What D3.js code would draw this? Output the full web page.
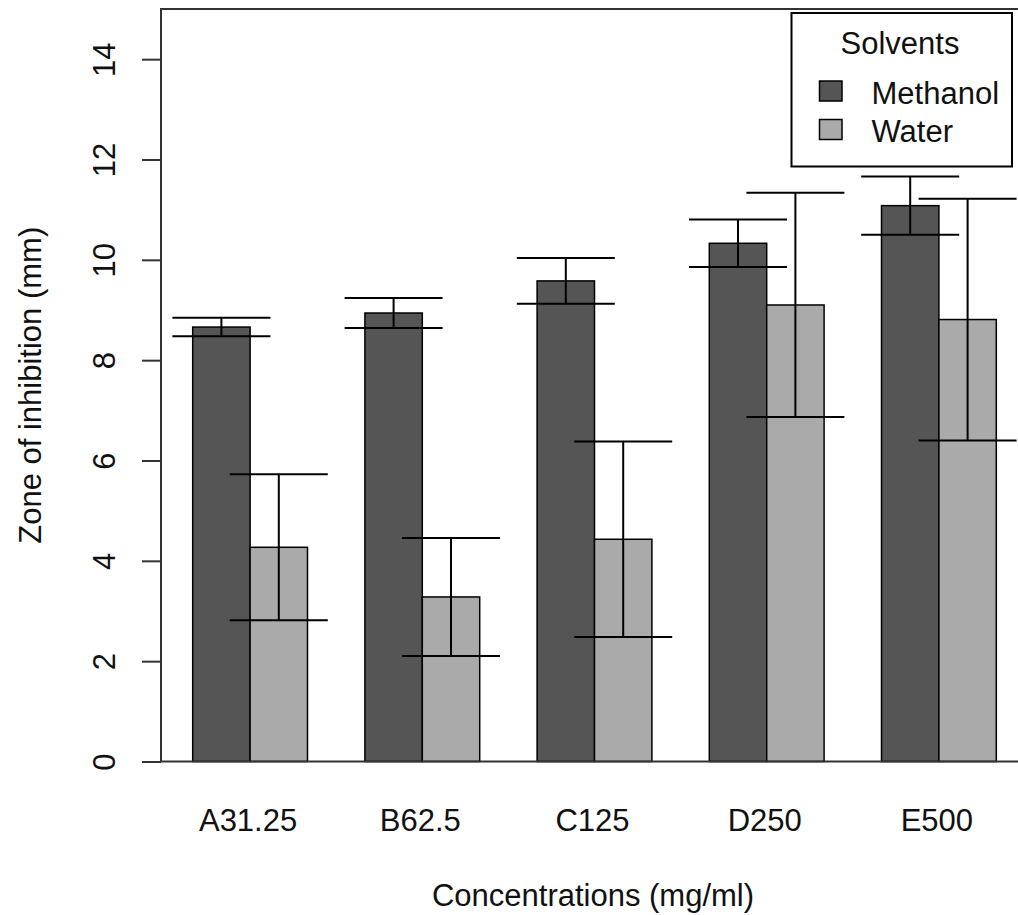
<!DOCTYPE html>
<html>
<head>
<meta charset="utf-8">
<script src="https://cdn.jsdelivr.net/npm/d3@7"></script>
<style>
  html, body { margin: 0; padding: 0; background: #fff; }
  svg { display: block; }
  text { font-family: "Liberation Sans", Arial, sans-serif; fill: #111; }
</style>
</head>
<body>
<svg id="chart" width="1018" height="915"></svg>
<script>
// ---- data ----
const categories = ["A31.25", "B62.5", "C125", "D250", "E500"];
const series = ["Methanol", "Water"];
const methanolMean = [8.66, 8.94, 9.58, 10.33, 11.08];
const methanolSD   = [0.185, 0.30, 0.455, 0.475, 0.58];
const waterMean    = [4.27, 3.28, 4.43, 9.10, 8.81];
const waterSD      = [1.455, 1.175, 1.95, 2.235, 2.41];
const yTicks = [0, 2, 4, 6, 8, 10, 12, 14];
const xTitle = "Concentrations (mg/ml)";
const yTitle = "Zone of inhibition (mm)";
const legendTitle = "Solvents";

const colors = { "Methanol": "#555555", "Water": "#aaaaaa" };

const rows = categories.map((c, i) => ({
  cat: c,
  vals: [
    { s: "Methanol", v: methanolMean[i], sd: methanolSD[i] },
    { s: "Water", v: waterMean[i], sd: waterSD[i] }
  ]
}));

const svg = d3.select("#chart");

const plot = { left: 161, right: 1028, top: 9, bottom: 761.5 };

const y = d3.scaleLinear().domain([0, 15]).range([plot.bottom, plot.top]);
const x0 = d3.scaleBand().domain(categories).range([164, 1025])
  .paddingInner(1/3).paddingOuter(1/6);
const x1 = d3.scaleBand().domain(series).range([0, x0.bandwidth()]).padding(0);

// bars
const g = svg.append("g");
const groups = g.selectAll("g.grp").data(rows).join("g")
  .attr("class", "grp")
  .attr("transform", d => `translate(${x0(d.cat)},0)`);

groups.selectAll("rect").data(d => d.vals).join("rect")
  .attr("x", d => x1(d.s))
  .attr("y", d => y(d.v))
  .attr("width", x1.bandwidth())
  .attr("height", d => y(0) - y(d.v))
  .attr("fill", d => colors[d.s])
  .attr("stroke", "#000")
  .attr("stroke-width", 1.5);

// error bars
const capHalf = 49;
const eb = groups.selectAll("g.eb").data(d => d.vals).join("g").attr("class", "eb")
  .attr("stroke", "#000").attr("stroke-width", 2);
eb.append("line")
  .attr("x1", d => x1(d.s) + x1.bandwidth() / 2)
  .attr("x2", d => x1(d.s) + x1.bandwidth() / 2)
  .attr("y1", d => y(d.v - d.sd))
  .attr("y2", d => y(d.v + d.sd));
eb.append("line")
  .attr("x1", d => x1(d.s) + x1.bandwidth() / 2 - capHalf)
  .attr("x2", d => x1(d.s) + x1.bandwidth() / 2 + capHalf)
  .attr("y1", d => y(d.v + d.sd))
  .attr("y2", d => y(d.v + d.sd));
eb.append("line")
  .attr("x1", d => x1(d.s) + x1.bandwidth() / 2 - capHalf)
  .attr("x2", d => x1(d.s) + x1.bandwidth() / 2 + capHalf)
  .attr("y1", d => y(d.v - d.sd))
  .attr("y2", d => y(d.v - d.sd));

// box
svg.append("rect")
  .attr("x", plot.left).attr("y", plot.top)
  .attr("width", plot.right - plot.left).attr("height", plot.bottom - plot.top)
  .attr("fill", "none").attr("stroke", "#333").attr("stroke-width", 2);

// y axis
const yAxis = svg.append("g").attr("transform", `translate(${plot.left},0)`)
  .call(d3.axisLeft(y).tickValues(yTicks).tickSize(19).tickFormat(d3.format("d")));
yAxis.select(".domain").remove();
yAxis.selectAll(".tick line").attr("stroke", "#333").attr("stroke-width", 2);
yAxis.selectAll(".tick text")
  .attr("x", null).attr("dy", null)
  .attr("font-size", 31)
  .attr("text-anchor", "middle")
  .attr("transform", `translate(${115 - plot.left},0) rotate(-90)`)
  .attr("y", 0)
  .style("font-family", "'Liberation Sans', Arial, sans-serif")
  .attr("fill", "#111");

// x category labels
svg.append("g").selectAll("text").data(categories).join("text")
  .attr("x", d => x0(d) + x0.bandwidth() / 2 - 2)
  .attr("y", 831)
  .attr("text-anchor", "middle")
  .attr("font-size", 31)
  .text(d => d);

// axis titles
svg.append("text")
  .attr("x", 593).attr("y", 906)
  .attr("text-anchor", "middle").attr("font-size", 31)
  .text(xTitle);
svg.append("text")
  .attr("transform", `translate(41,${(plot.top + plot.bottom) / 2}) rotate(-90)`)
  .attr("text-anchor", "middle").attr("font-size", 31)
  .text(yTitle);

// legend
const lg = svg.append("g");
lg.append("rect").attr("x", 791.5).attr("y", 13).attr("width", 220.5).attr("height", 153.5)
  .attr("fill", "#fff").attr("stroke", "#000").attr("stroke-width", 2);
lg.append("text").attr("x", 900).attr("y", 53.5).attr("text-anchor", "middle")
  .attr("font-size", 31).text(legendTitle);
const li = lg.selectAll("g.li").data(series).join("g").attr("class", "li")
  .attr("transform", (d, i) => `translate(0,${i * 38.5})`);
li.append("rect").attr("x", 819.5).attr("y", 81).attr("width", 22.5).attr("height", 20)
  .attr("fill", d => colors[d]).attr("stroke", "#000").attr("stroke-width", 1.5);
li.append("text").attr("x", 871.5).attr("y", 103.5).attr("font-size", 31).text(d => d);
</script>
</body>
</html>
